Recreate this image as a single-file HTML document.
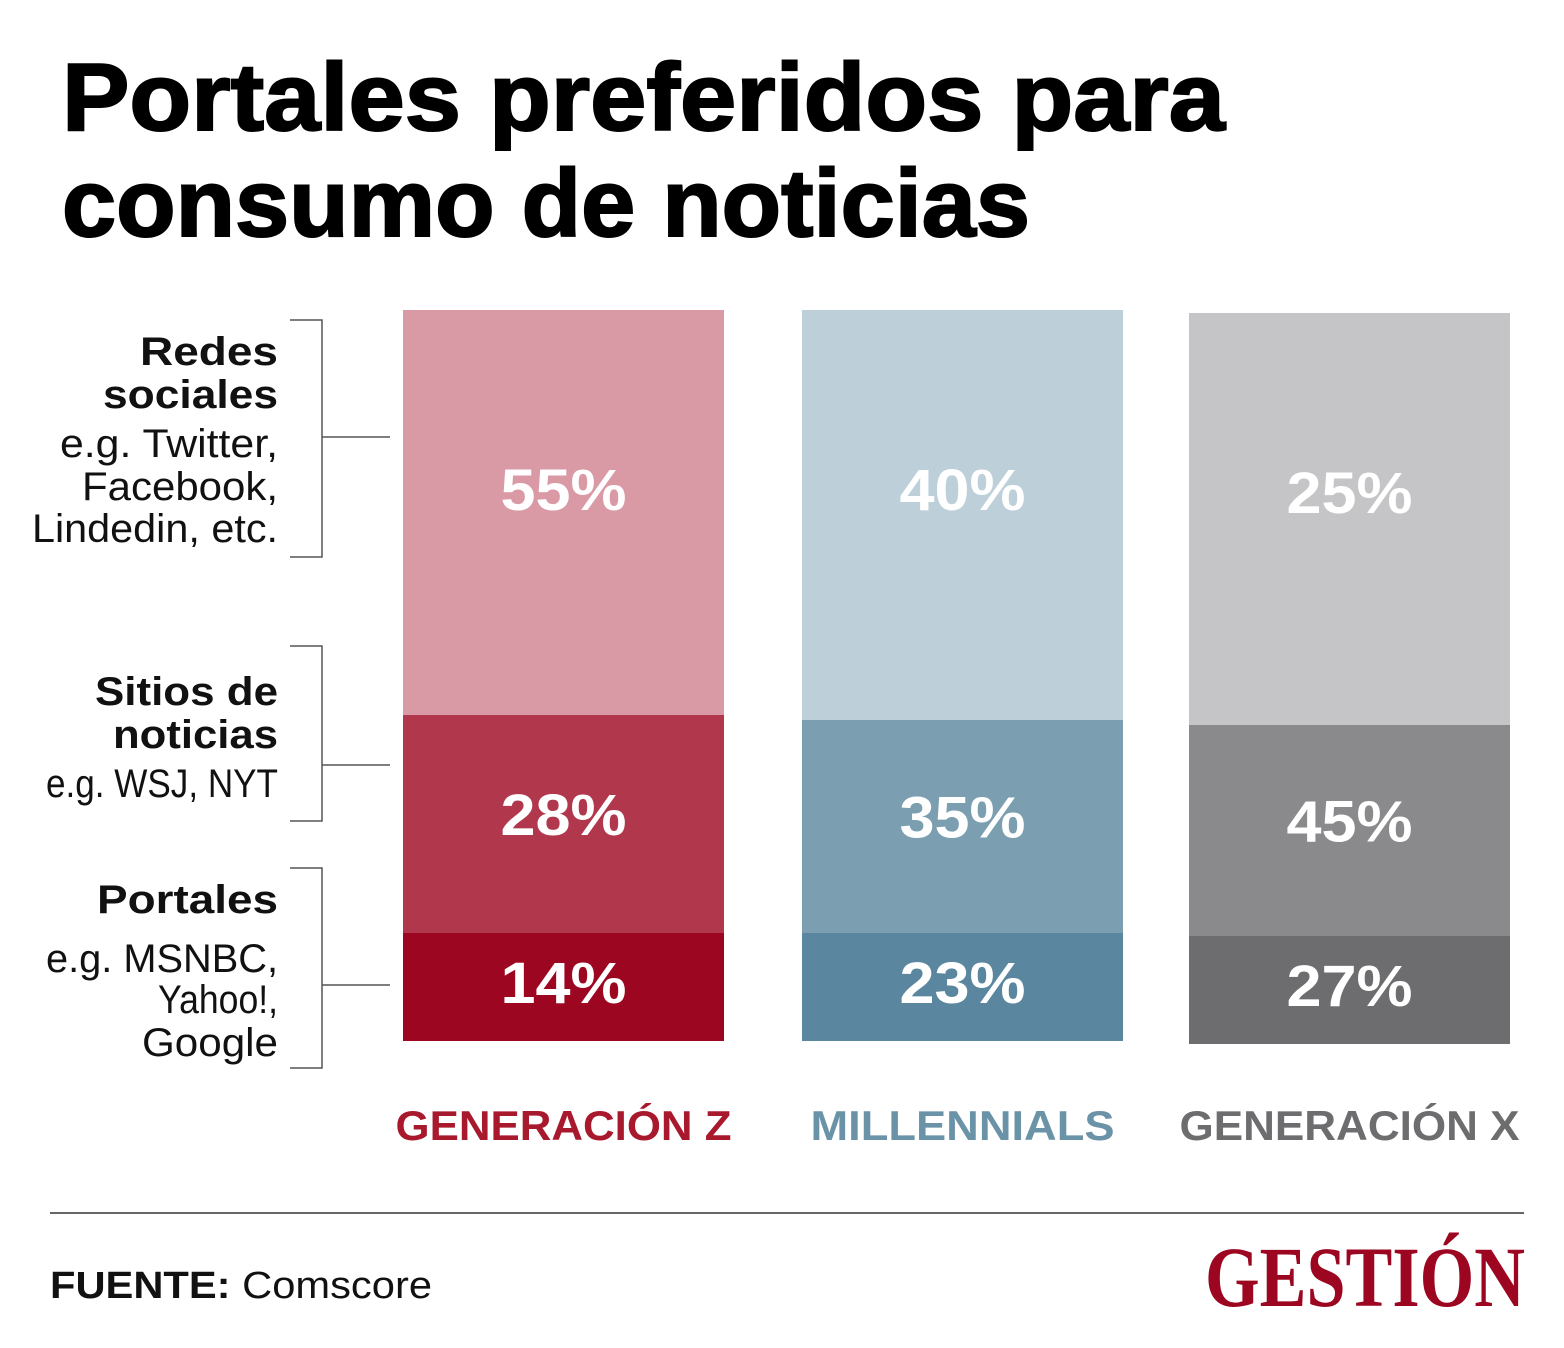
<!DOCTYPE html>
<html><head><meta charset="utf-8"><style>
html,body{margin:0;padding:0;background:#fff;}
svg{display:block;font-family:"Liberation Sans",sans-serif;}
</style></head><body>
<svg id="chart" width="1564" height="1348" viewBox="0 0 1564 1348">
<rect width="1564" height="1348" fill="#fff"/>
<text x="62" y="130" font-size="96" font-weight="bold" textLength="1163" lengthAdjust="spacingAndGlyphs" fill="#000" stroke="#000" stroke-width="2">Portales preferidos para</text>
<text x="62" y="236" font-size="96" font-weight="bold" textLength="968" lengthAdjust="spacingAndGlyphs" fill="#000" stroke="#000" stroke-width="2">consumo de noticias</text>
<g id="legend" font-size="40" text-anchor="end" fill="#111">
<text x="278" y="365" font-weight="bold" textLength="138" lengthAdjust="spacingAndGlyphs">Redes</text>
<text x="278" y="408" font-weight="bold" textLength="175" lengthAdjust="spacingAndGlyphs">sociales</text>
<text x="278" y="457" textLength="218" lengthAdjust="spacingAndGlyphs">e.g. Twitter,</text>
<text x="278" y="500" textLength="196" lengthAdjust="spacingAndGlyphs">Facebook,</text>
<text x="278" y="542" textLength="246" lengthAdjust="spacingAndGlyphs">Lindedin, etc.</text>
<text x="278" y="705" font-weight="bold" textLength="183" lengthAdjust="spacingAndGlyphs">Sitios de</text>
<text x="278" y="748" font-weight="bold" textLength="165" lengthAdjust="spacingAndGlyphs">noticias</text>
<text x="278" y="797" textLength="232" lengthAdjust="spacingAndGlyphs">e.g. WSJ, NYT</text>
<text x="278" y="913" font-weight="bold" textLength="181" lengthAdjust="spacingAndGlyphs">Portales</text>
<text x="278" y="972" textLength="232" lengthAdjust="spacingAndGlyphs">e.g. MSNBC,</text>
<text x="278" y="1013" textLength="120" lengthAdjust="spacingAndGlyphs">Yahoo!,</text>
<text x="278" y="1056" textLength="136" lengthAdjust="spacingAndGlyphs">Google</text>
</g>
<g stroke="#555" stroke-width="1.5" fill="none">
<path d="M290 320H322V557H290M322 437H390"/>
<path d="M290 646H322V821H290M322 765H390"/>
<path d="M290 868H322V1068H290M322 985H390"/>
</g>
<g id="bars"></g>
<line x1="50" y1="1213" x2="1524" y2="1213" stroke="#333" stroke-width="1.5"/>
<text x="50" y="1298" font-size="38" fill="#111" textLength="382" lengthAdjust="spacingAndGlyphs"><tspan font-weight="bold">FUENTE:</tspan> Comscore</text>
<text x="1525" y="1306" text-anchor="end" font-family="'Liberation Serif',serif" font-weight="bold" font-size="86" fill="#9c0620" textLength="320" lengthAdjust="spacingAndGlyphs">GESTIÓN</text>
</svg>
<script>
const categories = ["GENERACIÓN Z", "MILLENNIALS", "GENERACIÓN X"];
const redesSociales = [55, 40, 25];
const sitiosNoticias = [28, 35, 45];
const portales = [14, 23, 27];
const seriesColors = [["#d99aa6","#b0374c","#9c0620"],["#bdd0da","#7b9fb1","#5a879f"],["#c5c5c7","#8a8a8c","#6d6d70"]];
const labelColors = ["#a8192e","#6b93a8","#6d6d70"];

const NS = "http://www.w3.org/2000/svg";
const g = document.getElementById("bars");
const barX = i => [403, 802, 1189][i];
const barW = 321;
function mk(tag, attrs){const e=document.createElementNS(NS,tag);for(const k in attrs)e.setAttribute(k,attrs[k]);g.appendChild(e);return e;}
categories.forEach((c, i) => {
  const off = i === 2 ? 3 : 0;
  const top = 310 + off, bottom = 1041 + off;
  const bottomH = 108;
  const b1 = 715 + (55 - redesSociales[i]) / 3;
  const b2 = bottom - bottomH;
  const vals = [redesSociales[i], sitiosNoticias[i], portales[i]];
  const segs = [[top, b1], [b1, b2], [b2, bottom]];
  const names = ["redes", "sitios", "portales"];
  segs.forEach((s, j) => {
    const r = mk("rect", {x: barX(i), y: s[0], width: barW, height: s[1] - s[0], fill: seriesColors[i][j]});
    
    
    const cy = j === 0 ? 510 + off : (s[0] + s[1]) / 2 + (j === 1 ? 11 : 16);
    const t = mk("text", {x: barX(i) + barW / 2, y: cy, "text-anchor": "middle", "font-size": "58", "font-weight": "bold", fill: "#fff", textLength: 126, lengthAdjust: "spacingAndGlyphs"});
    t.textContent = vals[j] + "%";
    
    
  });
  const lbl = mk("text", {x: barX(i) + barW / 2, y: 1140, "text-anchor": "middle", "font-size": "42", "font-weight": "bold", fill: labelColors[i], textLength: [336,304,340][i], lengthAdjust: "spacingAndGlyphs"});
  lbl.textContent = c;
  
  
});
</script>
</body></html>
